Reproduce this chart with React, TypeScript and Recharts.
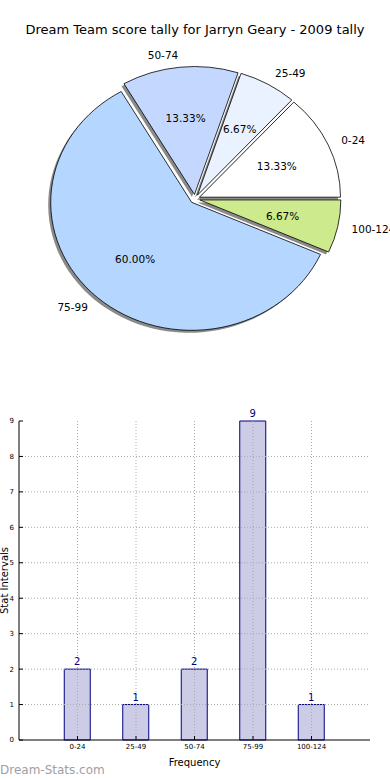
import React from 'react';
import {
  PieChart, Pie, BarChart, Bar, XAxis, YAxis, ReferenceLine, LabelList,
} from 'recharts';

const categories = ['0-24', '25-49', '50-74', '75-99', '100-124'];
const counts = [2, 1, 2, 9, 1];
const pieColors = ['#ffffff', '#eaf1ff', '#c4d8ff', '#b4d6ff', '#cdea8c'];
const yTicks = [0, 1, 2, 3, 4, 5, 6, 7, 8, 9];
const xTicks = [0, 1, 2, 3, 4];

const FONT = '"DejaVu Sans", sans-serif';
const RAD = Math.PI / 180;
// matplotlib drew the pie on unequal axes, so it is a bit squashed
const SQUASH = 128 / 141;
const EXPLODE = 0.035;

const pieData = categories.map((name, i) => ({ name, value: counts[i], fill: pieColors[i] }));
const barData = categories.map((name, i) => ({ x: i, name, count: counts[i] }));

function ellipsePath(cx: number, cy: number, rx: number, ry: number, a1: number, a2: number) {
  const x1 = cx + rx * Math.cos(a1 * RAD);
  const y1 = cy - ry * Math.sin(a1 * RAD);
  const x2 = cx + rx * Math.cos(a2 * RAD);
  const y2 = cy - ry * Math.sin(a2 * RAD);
  const large = Math.abs(a2 - a1) > 180 ? 1 : 0;
  return `M${cx},${cy} L${x1},${y1} A${rx},${ry} 0 ${large} 0 ${x2},${y2} Z`;
}

const makeSlice = (shadow: boolean) => (props: any) => {
  const { cx, cy, outerRadius, startAngle, endAngle, fill } = props;
  const mid = (startAngle + endAngle) / 2;
  const rx = outerRadius;
  const ry = outerRadius * SQUASH;
  let ox = cx + EXPLODE * rx * Math.cos(mid * RAD);
  let oy = cy - EXPLODE * ry * Math.sin(mid * RAD);
  if (shadow) {
    ox -= 2.5;
    oy += 2.5;
  }
  return (
    <path
      d={ellipsePath(ox, oy, rx, ry, startAngle, endAngle)}
      fill={shadow ? '#8a8a8a' : fill}
      stroke={shadow ? 'none' : '#000'}
      strokeWidth={0.8}
    />
  );
};

const renderPieLabel = (props: any) => {
  const { cx, cy, midAngle, outerRadius, percent, index } = props;
  const rx = outerRadius;
  const ry = outerRadius * SQUASH;
  const c = Math.cos(midAngle * RAD);
  const s = Math.sin(midAngle * RAD);
  const ox = cx + EXPLODE * rx * c;
  const oy = cy - EXPLODE * ry * s;
  return (
    <g>
      <text
        x={ox + 1.1 * rx * c}
        y={oy - 1.1 * ry * s}
        textAnchor={c >= 0 ? 'start' : 'end'}
        dominantBaseline="central"
        fontSize={10.5}
        fontFamily={FONT}
        fill="#000"
      >
        {categories[index]}
      </text>
      <text
        x={ox + 0.6 * rx * c}
        y={oy - 0.6 * ry * s}
        textAnchor="middle"
        dominantBaseline="central"
        fontSize={10.5}
        fontFamily={FONT}
        fill="#000"
      >
        {(percent * 100).toFixed(2)}%
      </text>
    </g>
  );
};

const YLabel = (props: any) => {
  const cy = props.viewBox.y + props.viewBox.height / 2;
  return (
    <text
      x={4}
      y={cy}
      transform={`rotate(-90 4 ${cy})`}
      textAnchor="middle"
      dominantBaseline="central"
      fontSize={10}
      fontFamily={FONT}
      fill="#000"
    >
      Stat Intervals
    </text>
  );
};

export default function App() {
  const tickStyle = { fontSize: 7, fontFamily: FONT, fill: '#000' };
  return (
    <div style={{ position: 'absolute', left: 0, top: 0, width: 390, height: 780, background: '#fff' }}>
      <div
        style={{
          position: 'absolute', left: 0, top: 22, width: 390, textAlign: 'center',
          fontFamily: FONT, fontSize: 13, lineHeight: '16px', color: '#000',
        }}
      >
        Dream Team score tally for Jarryn Geary - 2009 tally
      </div>
      <div style={{ position: 'absolute', left: 0, top: 0 }}>
        <PieChart width={390} height={380} margin={{ top: 0, right: 0, bottom: 0, left: 0 }}>
          <Pie
            data={pieData}
            dataKey="value"
            nameKey="name"
            cx={195}
            cy={199}
            outerRadius={141}
            startAngle={0}
            endAngle={360}
            shape={makeSlice(true)}
            isAnimationActive={false}
          />
          <Pie
            data={pieData}
            dataKey="value"
            nameKey="name"
            cx={195}
            cy={199}
            outerRadius={141}
            startAngle={0}
            endAngle={360}
            shape={makeSlice(false)}
            label={renderPieLabel}
            labelLine={false}
            isAnimationActive={false}
          />
        </PieChart>
      </div>
      <div style={{ position: 'absolute', left: 0, top: 400 }}>
        <BarChart width={390} height={380} data={barData} margin={{ top: 21, right: 20, bottom: 0, left: 0 }}>
          <XAxis
            dataKey="x"
            type="number"
            domain={[-1, 5]}
            ticks={xTicks}
            tickFormatter={(v: number) => categories[v] ?? ''}
            height={40}
            stroke="#000"
            tick={tickStyle}
            tickSize={-4}
            tickMargin={8}
            allowDataOverflow
            label={{ value: 'Frequency', position: 'insideBottom', offset: 14, fontSize: 10, fontFamily: FONT, fill: '#000' }}
          />
          <XAxis
            xAxisId="top"
            orientation="top"
            dataKey="x"
            type="number"
            domain={[-1, 5]}
            ticks={xTicks}
            tickFormatter={() => ''}
            height={0}
            stroke="#000"
            tickSize={-4}
            allowDataOverflow
          />
          <YAxis
            domain={[0, 9]}
            ticks={yTicks}
            width={19}
            stroke="#000"
            tick={tickStyle}
            tickSize={-4}
            tickMargin={9}
            label={<YLabel />}
          />
          <YAxis
            yAxisId="right"
            orientation="right"
            domain={[0, 9]}
            ticks={yTicks}
            width={0}
            stroke="#000"
            tickSize={-4}
            tickFormatter={() => ''}
          />
          <Bar dataKey="count" barSize={26} fill="#ccccE6" stroke="#000080" strokeWidth={1} isAnimationActive={false}>
            <LabelList dataKey="count" position="top" offset={4} fill="#000080" fontSize={10} fontFamily={FONT} />
          </Bar>
          {xTicks.map((t) => (
            <ReferenceLine key={`gx${t}`} x={t} stroke="#aaa" strokeDasharray="1 2" />
          ))}
          {yTicks.slice(1, -1).map((t) => (
            <ReferenceLine key={`gy${t}`} y={t} stroke="#aaa" strokeDasharray="1 2" />
          ))}
        </BarChart>
      </div>
      <div
        style={{
          position: 'absolute', left: 0, top: 762, fontFamily: FONT, fontSize: 12,
          color: '#a0a0a0', lineHeight: '16px',
        }}
      >
        Dream-Stats.com
      </div>
    </div>
  );
}
